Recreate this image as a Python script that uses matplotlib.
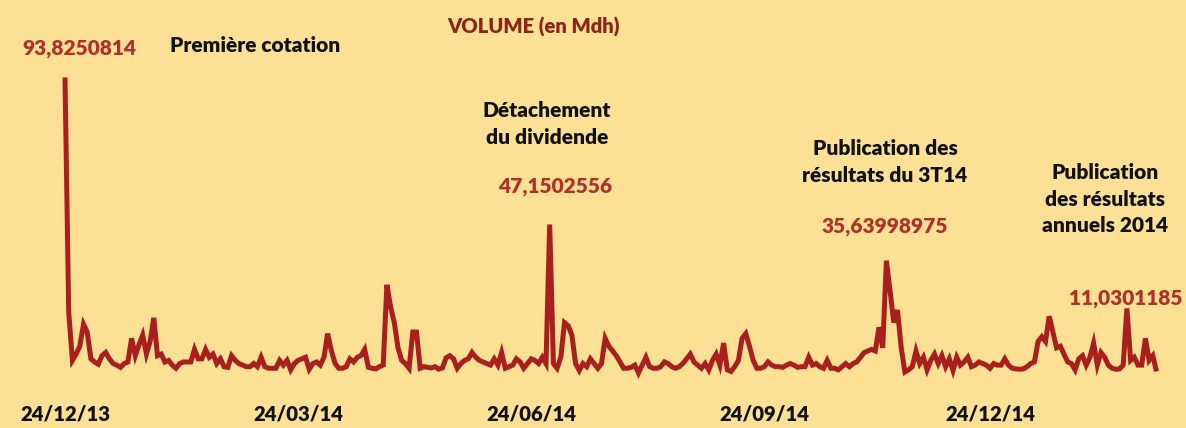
import matplotlib
matplotlib.use("Agg")
import matplotlib.pyplot as plt

# ---------------- data ----------------
volume = [
    93.8250814, 19.4, 4.0, 6.0, 8.5, 15.5, 13.0, 4.5, 3.5, 2.8,
    5.5, 6.5, 4.5, 3.0, 2.5, 1.8, 3.0, 3.5, 11.0, 5.5,
    9.0, 12.0, 6.0, 10.0, 17.5, 5.5, 6.0, 3.5, 4.0, 2.5,
    1.5, 3.0, 3.5, 3.5, 3.5, 7.5, 4.5, 4.5, 7.5, 5.0,
    6.0, 3.0, 4.5, 2.0, 1.8, 5.5, 4.0, 3.0, 2.5, 2.0,
    2.0, 3.0, 2.0, 5.0, 2.0, 1.5, 1.5, 1.5, 4.0, 2.5,
    4.0, 1.0, 3.0, 4.0, 4.5, 5.0, 1.2, 3.0, 3.5, 2.5,
    5.0, 12.5, 7.0, 3.0, 1.5, 1.5, 2.0, 4.5, 3.5, 5.0,
    5.5, 7.5, 1.8, 1.5, 1.3, 2.0, 2.5, 28.0, 21.0, 16.0,
    8.0, 4.0, 3.0, 1.5, 13.0, 13.0, 1.5, 2.0, 1.8, 1.6,
    2.0, 1.2, 1.6, 4.8, 5.5, 4.5, 1.5, 3.0, 4.0, 4.5,
    6.5, 5.0, 4.0, 3.5, 3.0, 2.5, 4.5, 2.5, 6.5, 1.5,
    2.0, 2.5, 4.5, 3.5, 1.5, 3.0, 4.5, 4.0, 3.0, 5.0,
    3.0, 47.1502556, 3.0, 1.5, 5.0, 16.0, 15.0, 12.0, 3.0, 0.8,
    3.0, 2.0, 4.5, 3.0, 1.5, 3.0, 11.0, 8.5, 7.0, 5.5,
    3.5, 1.5, 1.5, 1.8, 2.5, 0.0, 2.5, 5.0, 2.0, 1.5,
    1.5, 2.0, 3.5, 3.0, 2.0, 1.5, 2.0, 3.0, 4.5, 6.0,
    3.5, 2.5, 1.5, 3.0, 1.0, 4.0, 6.0, 2.5, 9.5, 1.0,
    0.5, 2.0, 4.0, 11.0, 12.5, 8.5, 4.0, 1.5, 1.5, 2.0,
    3.5, 2.5, 2.0, 2.0, 1.8, 2.5, 3.0, 2.5, 1.8, 2.0,
    2.0, 5.0, 2.5, 3.0, 2.0, 1.5, 4.0, 1.5, 1.5, 1.0,
    2.0, 3.0, 2.0, 3.0, 3.5, 5.0, 6.5, 7.0, 7.5, 7.0,
    14.5, 8.0, 35.63998975, 26.0, 16.0, 20.0, 8.0, 0.3, 1.0, 2.0,
    7.0, 3.0, 5.0, 1.0, 4.0, 6.0, 3.0, 5.5, 2.0, 4.5,
    0.8, 5.0, 2.5, 3.5, 5.0, 2.0, 2.5, 3.5, 3.0, 2.5,
    1.5, 3.0, 2.5, 2.5, 4.5, 2.5, 1.5, 1.3, 1.2, 1.3,
    2.0, 3.0, 3.5, 10.0, 11.5, 10.0, 18.0, 13.0, 8.0, 8.5,
    6.0, 3.5, 3.0, 1.0, 4.5, 5.5, 2.5, 5.0, 9.5, 2.5,
    6.5, 5.0, 2.5, 1.5, 1.2, 1.3, 2.5, 20.5, 4.0, 5.0,
    2.5, 2.5, 11.0, 4.0, 5.5, 0.5,
]
tick_index = [0, 63, 126, 189, 250]
tick_labels = ["24/12/13", "24/03/14", "24/06/14", "24/09/14", "24/12/14"]

title = "VOLUME (en Mdh)"
value_labels = ["93,8250814", "47,1502556", "35,63998975", "11,0301185"]
event_labels = ["Première cotation", "Détachement\ndu dividende",
                "Publication des\nrésultats du 3T14",
                "Publication\ndes résultats\nannuels 2014"]

# ---------------- style ----------------
BG = "#fbe096"
LINE = "#a91f1d"
RED_TXT = "#b0302a"
TITLE_C = "#8e2416"
FONT = ["Lato", "DejaVu Sans"]
WEIGHT = "heavy"

W, H = 1186, 428
fig = plt.figure(figsize=(W / 100, H / 100), dpi=100)
fig.patch.set_facecolor(BG)

px0, pxs = 65.0, 3.7          # pixel of index 0, pixels per index
y0, pys = 373.0, 3.15          # pixel of value 0, pixels per unit
ax_bottom_px = 398.0
ax = fig.add_axes([0, (H - ax_bottom_px) / H, 1, ax_bottom_px / H])
ax.set_facecolor(BG)
ax.set_xlim(-px0 / pxs, (W - px0) / pxs)
ax.set_ylim((y0 - ax_bottom_px) / pys, y0 / pys)

x = list(range(len(volume)))
ax.plot(x, volume, color=LINE, lw=3.6, solid_joinstyle="miter", solid_capstyle="butt")

for s in ax.spines.values():
    s.set_visible(False)
ax.set_yticks([])
ax.set_xticks(tick_index)
ax.set_xticklabels(tick_labels, fontsize=14.6, fontweight=WEIGHT, family=FONT, color="#111111")
ax.tick_params(axis="x", length=0, pad=5)


def ftext(px, py, s, **kw):
    fig.text(px / W, 1 - py / H, s, family=FONT, fontweight=WEIGHT, **kw)


ftext(534, 27, title, fontsize=14.5, color=TITLE_C, ha="center", va="center")

ftext(22, 48, value_labels[0], fontsize=15, color=RED_TXT, ha="left", va="center")
ftext(555, 186, value_labels[1], fontsize=15, color=RED_TXT, ha="center", va="center")
ftext(885, 227, value_labels[2], fontsize=15, color=RED_TXT, ha="center", va="center")
ftext(1126, 298, value_labels[3], fontsize=15, color=RED_TXT, ha="center", va="center")

ftext(170, 45, event_labels[0], fontsize=15, color="#111111", ha="left", va="center")
ftext(547, 124, event_labels[1], fontsize=15, color="#111111", ha="center", va="center",
      linespacing=1.45)
ftext(885, 162, event_labels[2], fontsize=15, color="#111111", ha="center", va="center",
      linespacing=1.45)
ftext(1105, 199, event_labels[3], fontsize=15, color="#111111", ha="center", va="center",
      linespacing=1.45)

fig.savefig("out.png", dpi=100, facecolor=BG)
